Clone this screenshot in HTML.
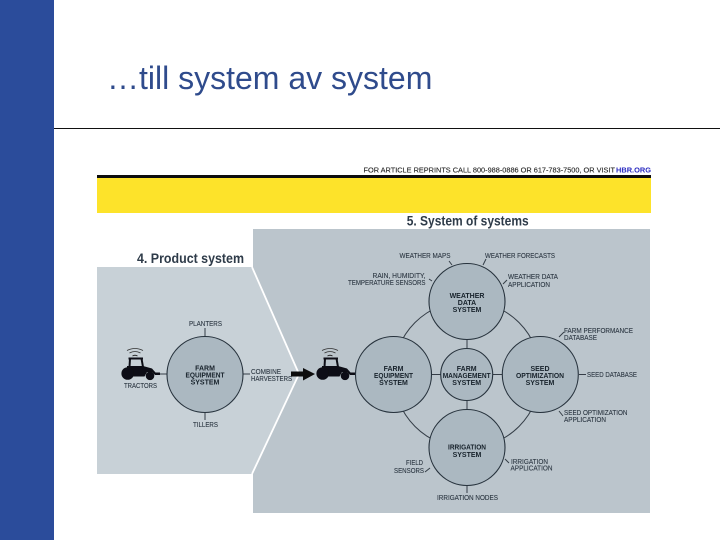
<!DOCTYPE html>
<html><head><meta charset="utf-8"><style>
html,body{margin:0;padding:0;background:#fff}
svg{display:block}
text{font-family:"Liberation Sans",sans-serif}
.l{font-size:7px;fill:#2f3a45;stroke:#2f3a45;stroke-width:.12}
.b{font-size:7px;font-weight:bold;fill:#18222c;text-anchor:middle}
.h{font-size:13.500px;font-weight:bold;fill:#2d3a48}
.c{fill:#abb8c1;stroke:#27323c;stroke-width:1.100}
.s{stroke:#343e47;stroke-width:1;fill:none}
</style></head><body>
<svg width="720" height="540" viewBox="0 0 720 540" xmlns="http://www.w3.org/2000/svg">
<defs>
<filter id="soft" x="0" y="0" width="100%" height="100%"><feGaussianBlur stdDeviation="0.3"/></filter>
<g id="tractor">
<path d="M128.500 358.500H143M130 358.500L129.500 367M141.500 358.500L143 367" fill="none" stroke="#0c0f12" stroke-width="2"/>
<path d="M127 366H143L152 368.500L155.500 372.500H160V375H155L152 372H147L144.500 376.500H133L131 369L127 368z" fill="#0c0f12"/>
<circle cx="127.700" cy="373.500" r="6.300" fill="#0c0f12"/>
<circle cx="150" cy="375.800" r="4.300" fill="#0c0f12"/>
<path d="M127 350.500q8-4 16 0M129.500 353q5.500-3 11 0" fill="none" stroke="#333" stroke-width=".8"/>
<path d="M132.500 356q2.500-1.500 5 0" fill="none" stroke="#222" stroke-width="1"/>
</g></defs>
<rect x="0" y="0" width="54" height="540" fill="#2b4c9b"/>
<rect x="54" y="128" width="666" height="1" fill="#111"/>
<text x="107" y="89" font-size="32" fill="#2f4b8c">…till system av system</text>

<g filter="url(#soft)">
<text x="363.500" y="172.700" font-size="7.200" fill="#222" stroke="#222" stroke-width=".1" textLength="251.500" lengthAdjust="spacingAndGlyphs">FOR ARTICLE REPRINTS CALL 800-988-0886 OR 617-783-7500, OR VISIT</text>
<text x="616" y="172.700" font-size="7.200" font-weight="bold" fill="#2a2ac0" textLength="35" lengthAdjust="spacingAndGlyphs">HBR.ORG</text>
<rect x="97" y="175" width="554" height="3" fill="#0b0b0b"/>
<rect x="97" y="178" width="554" height="35" fill="#fde32c"/>

<rect x="253" y="229" width="397" height="284" fill="#bbc5cc"/>
<path d="M97 267H252L298 374 252 474H97z" fill="#c8d1d7"/>
<path d="M252 267L299 374 252 474" fill="none" stroke="#fff" stroke-width="1.800"/>

<text x="137" y="263" class="h" textLength="107" lengthAdjust="spacingAndGlyphs">4. Product system</text>
<text x="406.700" y="225.500" class="h" textLength="122" lengthAdjust="spacingAndGlyphs">5. System of systems</text>

<!-- product system -->
<path class="s" d="M205 328V336M205 413V420M160 374H167M243 374H250"/>
<circle class="c" cx="205" cy="374.500" r="38"/>
<text class="b" x="205" y="370.500">FARM</text>
<text class="b" x="205" y="377.500" textLength="39" lengthAdjust="spacingAndGlyphs">EQUIPMENT</text>
<text class="b" x="205" y="384.500">SYSTEM</text>
<text class="l" x="189" y="326" textLength="33" lengthAdjust="spacingAndGlyphs">PLANTERS</text>
<text class="l" x="193" y="427" textLength="25" lengthAdjust="spacingAndGlyphs">TILLERS</text>
<text class="l" x="124" y="388" textLength="33" lengthAdjust="spacingAndGlyphs">TRACTORS</text>
<text class="l" x="251" y="374" textLength="30" lengthAdjust="spacingAndGlyphs">COMBINE</text>
<text class="l" x="251" y="381" textLength="41" lengthAdjust="spacingAndGlyphs">HARVESTERS</text>
<use href="#tractor"/>
<use href="#tractor" x="195"/>
<path d="M291 371.500H303V368L315 374 303 380.500V376.500H291z" fill="#0a0a0a"/>

<!-- system of systems -->
<circle class="s" cx="467" cy="374.500" r="73.500"/>
<path class="s" d="M467 340V348M467 401V409M432 374.500H441M493 374.500H502
M452 265L449 261M483 265L486 259M432 281L429 279M503 284L507 280
M559 337L564 332M579 374.500H586M559 411L563 416
M430 468L425 472M505 459L509 463M467 486V493"/>
<circle class="c" cx="467" cy="301.500" r="38"/>
<circle class="c" cx="393.500" cy="374.500" r="38"/>
<circle class="c" cx="540.300" cy="374.500" r="38"/>
<circle class="c" cx="467" cy="447.500" r="38"/>
<circle class="c" cx="466.700" cy="374.500" r="26"/>

<text class="b" x="467" y="298">WEATHER</text>
<text class="b" x="467" y="305">DATA</text>
<text class="b" x="467" y="312">SYSTEM</text>
<text class="b" x="393.500" y="371">FARM</text>
<text class="b" x="393.500" y="378" textLength="39" lengthAdjust="spacingAndGlyphs">EQUIPMENT</text>
<text class="b" x="393.500" y="385">SYSTEM</text>
<text class="b" x="466.700" y="371">FARM</text>
<text class="b" x="466.700" y="378" textLength="48" lengthAdjust="spacingAndGlyphs">MANAGEMENT</text>
<text class="b" x="466.700" y="385">SYSTEM</text>
<text class="b" x="540" y="371">SEED</text>
<text class="b" x="540" y="378" textLength="48" lengthAdjust="spacingAndGlyphs">OPTIMIZATION</text>
<text class="b" x="540" y="385">SYSTEM</text>
<text class="b" x="467" y="449.500" textLength="38" lengthAdjust="spacingAndGlyphs">IRRIGATION</text>
<text class="b" x="467" y="457">SYSTEM</text>

<text class="l" x="399.500" y="258" textLength="51" lengthAdjust="spacingAndGlyphs">WEATHER MAPS</text>
<text class="l" x="485" y="258" textLength="70" lengthAdjust="spacingAndGlyphs">WEATHER FORECASTS</text>
<text class="l" x="372.500" y="278" textLength="53" lengthAdjust="spacingAndGlyphs">RAIN, HUMIDITY,</text>
<text class="l" x="348" y="285" textLength="77.500" lengthAdjust="spacingAndGlyphs">TEMPERATURE SENSORS</text>
<text class="l" x="508" y="279" textLength="50" lengthAdjust="spacingAndGlyphs">WEATHER DATA</text>
<text class="l" x="508" y="287" textLength="42" lengthAdjust="spacingAndGlyphs">APPLICATION</text>
<text class="l" x="564" y="333" textLength="69" lengthAdjust="spacingAndGlyphs">FARM PERFORMANCE</text>
<text class="l" x="564" y="340" textLength="33" lengthAdjust="spacingAndGlyphs">DATABASE</text>
<text class="l" x="587" y="377" textLength="50" lengthAdjust="spacingAndGlyphs">SEED DATABASE</text>
<text class="l" x="564" y="415" textLength="63.500" lengthAdjust="spacingAndGlyphs">SEED OPTIMIZATION</text>
<text class="l" x="564" y="422" textLength="42" lengthAdjust="spacingAndGlyphs">APPLICATION</text>
<text class="l" x="406" y="465" textLength="17" lengthAdjust="spacingAndGlyphs">FIELD</text>
<text class="l" x="394" y="473" textLength="30" lengthAdjust="spacingAndGlyphs">SENSORS</text>
<text class="l" x="511" y="464" textLength="37" lengthAdjust="spacingAndGlyphs">IRRIGATION</text>
<text class="l" x="510.500" y="470.500" textLength="42" lengthAdjust="spacingAndGlyphs">APPLICATION</text>
<text class="l" x="437" y="500" textLength="61" lengthAdjust="spacingAndGlyphs">IRRIGATION NODES</text>
</g>
</svg>
</body></html>
